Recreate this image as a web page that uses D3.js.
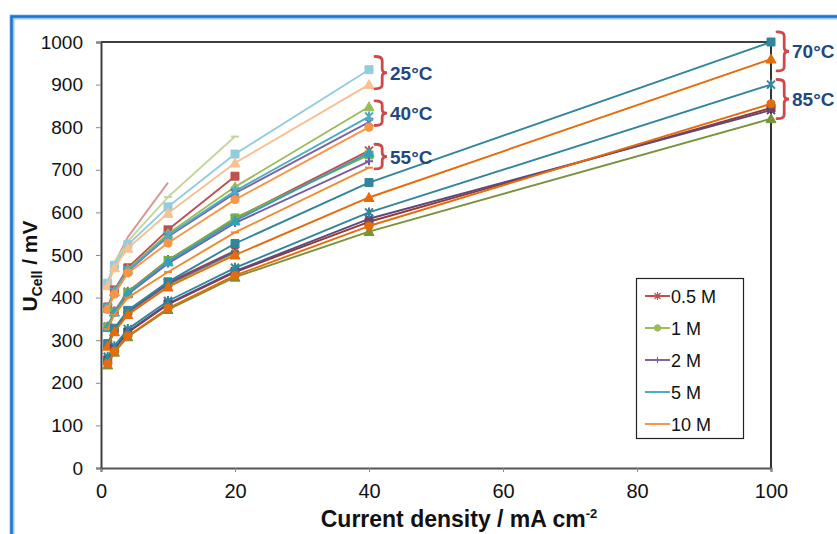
<!DOCTYPE html>
<html><head><meta charset="utf-8">
<script src="https://cdn.jsdelivr.net/npm/d3@7"></script>
<style>
html,body{margin:0;padding:0;background:#fff;}
svg{display:block;}
</style></head>
<body>
<svg id="chart" width="837" height="534"></svg>
<script>
// ---------- DATA ----------
const currentDensity = [1, 2, 4, 10, 20, 40, 100];           // mA cm-2
const concentrations = ["0.5 M", "1 M", "2 M", "5 M", "10 M"];
const temperatures = ["25°C", "40°C", "55°C", "70°C", "85°C"];

// U_Cell (mV), one row per concentration (0.5, 1, 2, 5, 10 M); null = not measured
const u25C = [
  [432, 480, 542, 670, null, null, null],
  [436, 482, 532, 636, 778, null, null],
  null,
  [434, 476, 524, 613, 737, 935, null],
  [428, 470, 516, 598, 716, 900, null]
];
const u40C = [
  [378, 418, 470, 559, 685, null, null],
  [376, 414, 466, 550, 660, 848, null],
  [374, 412, 462, 543, 645, 812, null],
  [376, 414, 464, 546, 650, 825, null],
  [372, 408, 458, 528, 630, 800, null]
];
const u55C = [
  [332, 368, 414, 488, 585, 745, null],
  [331, 367, 412, 487, 587, 735, null],
  [328, 364, 408, 480, 575, 720, null],
  [330, 366, 410, 484, 580, 740, null],
  [326, 360, 400, 460, 553, 705, null]
];
const u70C = [
  [290, 326, 368, 435, 510, null, null],
  [288, 322, 364, 430, 505, null, null],
  [289, 324, 366, 432, 508, null, null],
  [292, 328, 370, 437, 527, 670, 1000],
  [286, 320, 360, 425, 500, 635, 960]
];
const u85C = [
  [252, 280, 318, 384, 460, 578, 845],
  [242, 272, 308, 372, 448, 555, 820],
  [255, 282, 320, 386, 462, 585, 840],
  [261, 286, 326, 392, 470, 600, 900],
  [245, 274, 310, 375, 452, 568, 855]
];
const xTicks = [0, 20, 40, 60, 80, 100];
const yTicks = [0, 100, 200, 300, 400, 500, 600, 700, 800, 900, 1000];

// temperature group annotations: label, x position (mA cm-2), bracket span (mV)
const annLabels = ["25°C", "40°C", "55°C", "70°C", "85°C"];
const annX = [40, 40, 40, 100, 100];
const annTop = [966, 862, 760, 1024, 912];
const annBottom = [890, 804, 702, 932, 820];

// ---------- STYLE ----------
const colors = {
  "25°C": ["#D99694", "#C3D69B", "#B3A2C7", "#93CDDD", "#FAC090"],
  "40°C": ["#C0504D", "#9BBB59", "#8064A2", "#4BACC6", "#F79646"],
  "55°C": ["#C0504D", "#77B04A", "#7A5BA3", "#31A0BD", "#F08A2E"],
  "70°C": ["#A8413D", "#82A843", "#6E4F95", "#31859C", "#E46C0A"],
  "85°C": ["#953735", "#77933C", "#5F497A", "#31859C", "#E46C0A"]
};
const markers = {
  "25°C": ["none", "dash", "none", "square", "triangle"],
  "40°C": ["square", "triangle", "x", "asterisk", "circle"],
  "55°C": ["asterisk", "square", "plus", "triangle", "dash"],
  "70°C": ["x", "circle", "plus", "square", "triangle"],
  "85°C": ["square", "triangle", "x", "asterisk", "circle"]
};
const dataByTemp = {"25°C": u25C, "40°C": u40C, "55°C": u55C, "70°C": u70C, "85°C": u85C};

const svg = d3.select("#chart");
const x = d3.scaleLinear().domain([0, 100]).range([101, 771]);
const y = d3.scaleLinear().domain([0, 1000]).range([468, 42]);

// outer blue frame
svg.append("rect").attr("x", 12).attr("y", 17).attr("width", 840).attr("height", 540)
  .attr("fill", "none").attr("stroke", "#9CC3EA").attr("stroke-width", 5);
svg.append("rect").attr("x", 11.5).attr("y", 16.5).attr("width", 840).attr("height", 540)
  .attr("fill", "none").attr("stroke", "#1C76D0").attr("stroke-width", 2.5);

// plot frame (top/right)
svg.append("path")
  .attr("d", `M${x(0)},${y(1000)}H${x(100)}V${y(0)}`)
  .attr("fill", "none").attr("stroke", "#000").attr("stroke-width", 1.6);

const fontMain = "'Liberation Sans', Arial, sans-serif";

const yAxis = svg.append("g").attr("transform", `translate(${x(0)},0)`)
  .call(d3.axisLeft(y).tickValues(yTicks).tickSize(5).tickPadding(13).tickFormat(d3.format("d")));
yAxis.select(".domain").attr("stroke", "#404040").attr("stroke-width", 2);
yAxis.selectAll(".tick line").attr("stroke", "#888");
yAxis.selectAll("text").attr("font-family", fontMain).attr("font-size", 19).attr("fill", "#111");

const xAxis = svg.append("g").attr("transform", `translate(0,${y(0)})`)
  .call(d3.axisBottom(x).tickValues(xTicks).tickSize(4).tickPadding(12).tickFormat(d3.format("d")));
xAxis.select(".domain").attr("stroke", "#555").attr("stroke-width", 2);
xAxis.selectAll(".tick line").attr("stroke", "#888");
xAxis.selectAll("text").attr("font-family", fontMain).attr("font-size", 20).attr("fill", "#111");

// axis titles
svg.append("text").attr("x", 459).attr("y", 527).attr("text-anchor", "middle")
  .attr("font-family", fontMain).attr("font-weight", "bold").attr("font-size", 23).attr("fill", "#111")
  .html("Current density / mA cm<tspan dy='-9' font-size='13'>-2</tspan>");

const yt = svg.append("text").attr("transform", `translate(37,266) rotate(-90)`).attr("text-anchor", "middle")
  .attr("font-family", fontMain).attr("font-weight", "bold").attr("font-size", 21).attr("fill", "#111");
yt.append("tspan").text("U");
yt.append("tspan").attr("dy", 5).attr("font-size", 14).text("Cell");
yt.append("tspan").attr("dy", -5).text(" / mV");

// marker path generator
function markerPath(type, s) {
  const h = s / 2;
  switch (type) {
    case "square": return `M${-h},${-h}h${s}v${s}h${-s}Z`;
    case "triangle": return `M0,${-h - 1}L${h + 1},${h}L${-h - 1},${h}Z`;
    case "circle": return d3.symbol(d3.symbolCircle, s * s * 0.8)();
    case "x": return `M${-h},${-h}L${h},${h}M${-h},${h}L${h},${-h}`;
    case "plus": return `M${-h},0H${h}M0,${-h}V${h}`;
    case "asterisk": return `M${-h},${-h}L${h},${h}M${-h},${h}L${h},${-h}M0,${-h - 1}V${h + 1}`;
    case "dash": return `M${-h},0H${h}`;
    default: return null;
  }
}
const filled = t => t === "square" || t === "triangle" || t === "circle";

const line = d3.line().defined(d => d.v != null).x(d => x(d.x)).y(d => y(d.v));
const plot = svg.append("g");

temperatures.forEach(t => {
  dataByTemp[t].forEach((vals, ci) => {
    if (!vals) return;
    const pts = vals.map((v, i) => ({x: currentDensity[i], v}));
    const col = colors[t][ci];
    plot.append("path").datum(pts).attr("d", line)
      .attr("fill", "none").attr("stroke", col).attr("stroke-width", 1.9)
      .attr("stroke-linejoin", "round");
    const mt = markers[t][ci];
    if (mt === "none") return;
    plot.selectAll(null).data(pts.filter(d => d.v != null)).enter().append("path")
      .attr("transform", d => `translate(${x(d.x)},${y(d.v)})`)
      .attr("d", markerPath(mt, 8))
      .attr("fill", filled(mt) ? col : "none")
      .attr("stroke", col).attr("stroke-width", filled(mt) ? 1 : 2);
  });
});

// annotations: curly braces + labels
function bracePath(x0, yTop, yBot, w) {
  const ym = (yTop + yBot) / 2;
  const r = 4;
  return `M${x0},${yTop} Q${x0 + w * 0.6},${yTop} ${x0 + w * 0.6},${yTop + r}` +
    ` V${ym - r} Q${x0 + w * 0.6},${ym} ${x0 + w},${ym}` +
    ` Q${x0 + w * 0.6},${ym} ${x0 + w * 0.6},${ym + r}` +
    ` V${yBot - r} Q${x0 + w * 0.6},${yBot} ${x0},${yBot}`;
}
annLabels.forEach((lab, i) => {
  const bx = x(annX[i]) + 6;
  const yTop = y(annTop[i]), yBot = y(annBottom[i]);
  svg.append("path").attr("d", bracePath(bx, yTop, yBot, 12))
    .attr("fill", "none").attr("stroke", "#D0494A").attr("stroke-width", 2.8)
    .attr("stroke-linecap", "round");
  svg.append("text").attr("x", bx + 15).attr("y", (yTop + yBot) / 2 + 7)
    .attr("font-family", fontMain).attr("font-weight", "bold").attr("font-size", 19)
    .attr("fill", "#1F497D").text(lab);
});

// legend
const lg = svg.append("g");
lg.append("rect").attr("x", 636.5).attr("y", 278.5).attr("width", 107).attr("height", 160)
  .attr("fill", "#fff").attr("stroke", "#222").attr("stroke-width", 1.2);
const legendMarkers = ["asterisk", "circle", "plus", "none", "none"];
const legendColors = colors["40°C"];
concentrations.forEach((c, i) => {
  const ly = 296 + i * 32;
  lg.append("line").attr("x1", 645).attr("x2", 670).attr("y1", ly).attr("y2", ly)
    .attr("stroke", legendColors[i]).attr("stroke-width", 2);
  const mt = legendMarkers[i];
  if (mt !== "none") {
    lg.append("path").attr("transform", `translate(657.5,${ly})`)
      .attr("d", markerPath(mt, 6))
      .attr("fill", filled(mt) ? legendColors[i] : "none")
      .attr("stroke", legendColors[i]).attr("stroke-width", 1.2);
  }
  lg.append("text").attr("x", 671).attr("y", ly + 6.5)
    .attr("font-family", fontMain).attr("font-size", 18).attr("fill", "#111").text(c);
});
</script>
</body></html>
